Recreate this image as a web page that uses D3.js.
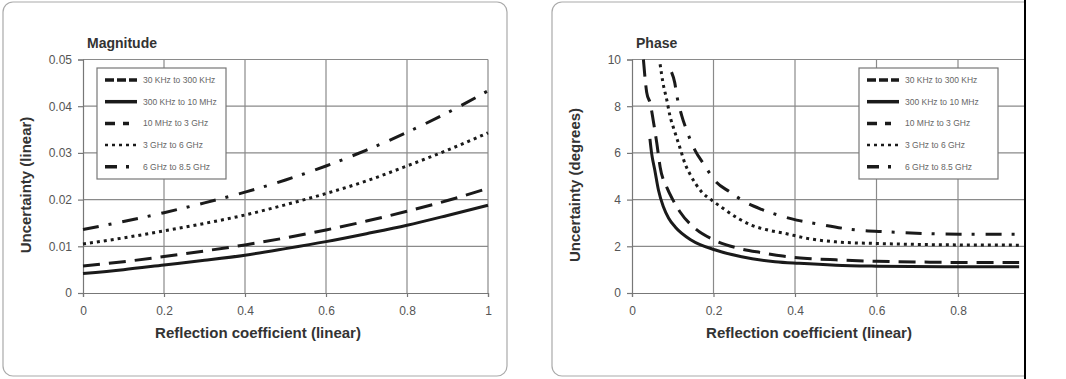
<!DOCTYPE html>
<html>
<head>
<meta charset="utf-8">
<script src="https://cdn.jsdelivr.net/npm/d3@7"></script>
<style>
  body { margin: 0; background: #fff; }
  svg { display: block; }
  .tick text { font-family: "Liberation Sans Narrow", "Liberation Sans", sans-serif; font-size: 12px; fill: #555; }
  .ttl { font-family: "Liberation Sans Narrow", "Liberation Sans", sans-serif; font-weight: bold; fill: #333; }
  .leg text { font-family: "Liberation Sans Narrow", "Liberation Sans", sans-serif; font-size: 8.5px; fill: #666; }
</style>
</head>
<body>
<div id="chart"></div>
<script>
// tick values
const xTicks = [0, 0.2, 0.4, 0.6, 0.8, 1];
const magTicks = [0, 0.01, 0.02, 0.03, 0.04, 0.05];
const phaseTicks = [0, 2, 4, 6, 8, 10];

const seriesNames = ["30 KHz to 300 KHz", "300 KHz to 10 MHz", "10 MHz to 3 GHz", "3 GHz to 6 GHz", "6 GHz to 8.5 GHz"];

// magnitude
const magX = [0, 0.1, 0.2, 0.3, 0.4, 0.5, 0.6, 0.7, 0.8, 0.9, 1];
const mag300k = [0.0042, 0.0050, 0.0060, 0.0070, 0.0081, 0.0095, 0.0110, 0.0127, 0.0145, 0.0166, 0.0188];
const mag10M = [0.0058, 0.0067, 0.0078, 0.0090, 0.0103, 0.0118, 0.0135, 0.0154, 0.0175, 0.0198, 0.0224];
const mag3G = [0.0105, 0.0118, 0.0133, 0.0149, 0.0167, 0.0189, 0.0213, 0.0240, 0.0272, 0.0306, 0.0343];
const mag6G = [0.0136, 0.0153, 0.0172, 0.0193, 0.0216, 0.0242, 0.0272, 0.0306, 0.0344, 0.0386, 0.0433];

// phase (degrees)
const ph300kX = [0.044, 0.048, 0.056, 0.065, 0.077, 0.09, 0.106, 0.146, 0.205, 0.269, 0.351, 0.41, 0.5, 0.6, 0.8, 0.95];
const ph300k = [6.6, 6.0, 5.26, 4.4, 3.69, 3.2, 2.83, 2.26, 1.84, 1.55, 1.34, 1.27, 1.19, 1.15, 1.12, 1.12];
const ph10MX = [0.028, 0.036, 0.045, 0.052, 0.061, 0.069, 0.086, 0.1, 0.118, 0.155, 0.2, 0.26, 0.32, 0.37, 0.43, 0.5, 0.6, 0.7, 0.8, 0.95];
const ph10M = [10, 8.6, 8.1, 7.4, 6.4, 5.4, 4.5, 4.0, 3.47, 2.76, 2.28, 1.92, 1.72, 1.58, 1.48, 1.42, 1.36, 1.33, 1.31, 1.31];
const ph3GX = [0.069, 0.076, 0.085, 0.093, 0.105, 0.118, 0.13, 0.142, 0.171, 0.196, 0.224, 0.261, 0.294, 0.335, 0.376, 0.43, 0.5, 0.6, 0.7, 0.8, 0.95];
const ph3G = [9.8, 9.0, 8.3, 7.6, 6.9, 6.2, 5.54, 5.1, 4.33, 3.97, 3.62, 3.19, 2.9, 2.69, 2.55, 2.34, 2.19, 2.12, 2.08, 2.06, 2.05];
const ph6GX = [0.097, 0.105, 0.11, 0.122, 0.134, 0.155, 0.177, 0.204, 0.24, 0.277, 0.318, 0.36, 0.404, 0.449, 0.535, 0.625, 0.715, 0.805, 0.95];
const ph6G = [9.46, 9.0, 8.46, 7.6, 6.97, 6.1, 5.5, 4.8, 4.33, 3.9, 3.58, 3.33, 3.12, 2.98, 2.73, 2.62, 2.55, 2.52, 2.52];

// line styles per series (index matches seriesNames)
const styles = [
  { w: 4, dash: "9,3" },
  { w: 3, dash: null },
  { w: 3, dash: "17,9" },
  { w: 3, dash: "3,4" },
  { w: 3, dash: "16,10,3,11" }
];

const W = 1066, H = 379;
const svg = d3.select("#chart").append("svg")
  .attr("width", W)
  .attr("height", H);

function zip(xs, ys) {
  return xs.map(function(x, i) { return [x, ys[i]]; });
}

function drawPanel(p) {
  const g = svg.append("g");

  g.append("rect")
    .attr("x", p.box[0]).attr("y", p.box[1])
    .attr("width", p.box[2]).attr("height", p.box[3])
    .attr("rx", 10)
    .style("fill", "#fff")
    .style("stroke", "#aaa")
    .style("stroke-width", 1.2);

  const x = d3.scaleLinear().domain([0, 1]).range([p.left, p.right]);
  const y = d3.scaleLinear().domain(p.yDomain).range([293, 59.5]);

  const clipId = "clip" + p.id;
  g.append("clipPath").attr("id", clipId)
    .append("rect")
    .attr("x", p.box[0]).attr("y", 0)
    .attr("width", p.clipRight - p.box[0]).attr("height", H);

  const inner = g.append("g").attr("clip-path", "url(#" + clipId + ")");

  // grid
  inner.selectAll(".hg").data(p.yTicks.slice(1)).enter().append("line")
    .attr("x1", p.left).attr("x2", p.right)
    .attr("y1", function(d) { return y(d); }).attr("y2", function(d) { return y(d); })
    .style("stroke", "#8a8a8a").style("stroke-width", 1.2);
  inner.selectAll(".vg").data(xTicks.slice(1)).enter().append("line")
    .attr("x1", function(d) { return x(d); }).attr("x2", function(d) { return x(d); })
    .attr("y1", y(p.yDomain[1])).attr("y2", y(0))
    .style("stroke", "#8a8a8a").style("stroke-width", 1.2);

  // axes
  const xa = inner.append("g").attr("transform", "translate(0," + y(0) + ")")
    .call(d3.axisBottom(x).tickValues(xTicks).tickSize(4).tickPadding(9).tickFormat(d3.format("")));
  const ya = inner.append("g").attr("transform", "translate(" + p.left + ",0)")
    .call(d3.axisLeft(y).tickValues(p.yTicks).tickSize(5).tickPadding(6).tickFormat(d3.format("")));
  [xa, ya].forEach(function(a) {
    a.select(".domain").style("stroke", "#777").style("stroke-width", 1.2);
    a.selectAll(".tick line").style("stroke", "#777").style("stroke-width", 1.2);
  });

  const line = d3.line()
    .x(function(d) { return x(d[0]); })
    .y(function(d) { return y(d[1]); })
    .curve(d3.curveMonotoneX);

  p.series.forEach(function(s) {
    const st = styles[s.idx];
    inner.append("path")
      .datum(zip(s.x, s.y))
      .attr("d", line)
      .style("fill", "none")
      .style("stroke", "#1a1a1a")
      .style("stroke-width", st.w)
      .style("stroke-dasharray", st.dash);
  });

  // legend
  const lg = g.append("g").attr("class", "leg");
  lg.append("rect")
    .attr("x", p.leg[0]).attr("y", 68)
    .attr("width", p.leg[1]).attr("height", 111)
    .style("fill", "#fff").style("stroke", "#777").style("stroke-width", 1.2);
  seriesNames.forEach(function(name, i) {
    const yy = 80 + i * 21.7;
    const st = styles[i];
    lg.append("line")
      .attr("x1", p.leg[0] + 8).attr("x2", p.leg[0] + 40)
      .attr("y1", yy).attr("y2", yy)
      .style("stroke", "#1a1a1a")
      .style("stroke-width", i == 3 ? 2.5 : 3.5)
      .style("stroke-dasharray", i == 2 ? "10,8,6,10" : (i == 4 ? "12,9,3,9" : st.dash));
    lg.append("text")
      .attr("x", p.leg[0] + 46).attr("y", yy + 3)
      .text(name);
  });

  // titles
  g.append("text").attr("class", "ttl")
    .attr("x", p.left + 4).attr("y", 48)
    .style("font-size", "14px")
    .text(p.title);
  g.append("text").attr("class", "ttl")
    .attr("x", p.xTitleX).attr("y", 338)
    .attr("text-anchor", "middle")
    .style("font-size", "15px")
    .text("Reflection coefficient (linear)");
  g.append("text").attr("class", "ttl")
    .attr("transform", "translate(" + p.yTitleX + ",185) rotate(-90)")
    .attr("text-anchor", "middle")
    .style("font-size", "15px")
    .text(p.yTitle);
}

drawPanel({
  id: "m", box: [3, 2, 504, 374],
  left: 83, right: 488, clipRight: 495,
  yDomain: [0, 0.05], yTicks: magTicks,
  title: "Magnitude", yTitle: "Uncertainty (linear)",
  xTitleX: 258, yTitleX: 31,
  leg: [97, 129],
  series: [
    { idx: 1, x: magX, y: mag300k },
    { idx: 2, x: magX, y: mag10M },
    { idx: 3, x: magX, y: mag3G },
    { idx: 4, x: magX, y: mag6G }
  ]
});

drawPanel({
  id: "p", box: [552, 2, 520, 374],
  left: 632, right: 1039.5, clipRight: 1024,
  yDomain: [0, 10], yTicks: phaseTicks,
  title: "Phase", yTitle: "Uncertainty (degrees)",
  xTitleX: 809, yTitleX: 580,
  leg: [859, 139],
  series: [
    { idx: 1, x: ph300kX, y: ph300k },
    { idx: 2, x: ph10MX, y: ph10M },
    { idx: 3, x: ph3GX, y: ph3G },
    { idx: 4, x: ph6GX, y: ph6G }
  ]
});

// the picture is cut off on the right
svg.append("rect").attr("x", 1025).attr("y", 0).attr("width", W - 1025).attr("height", H).style("fill", "#fff");
svg.append("line").attr("x1", 1025).attr("x2", 1025).attr("y1", 0).attr("y2", H)
  .style("stroke", "#000").style("stroke-width", 2);
</script>
</body>
</html>
